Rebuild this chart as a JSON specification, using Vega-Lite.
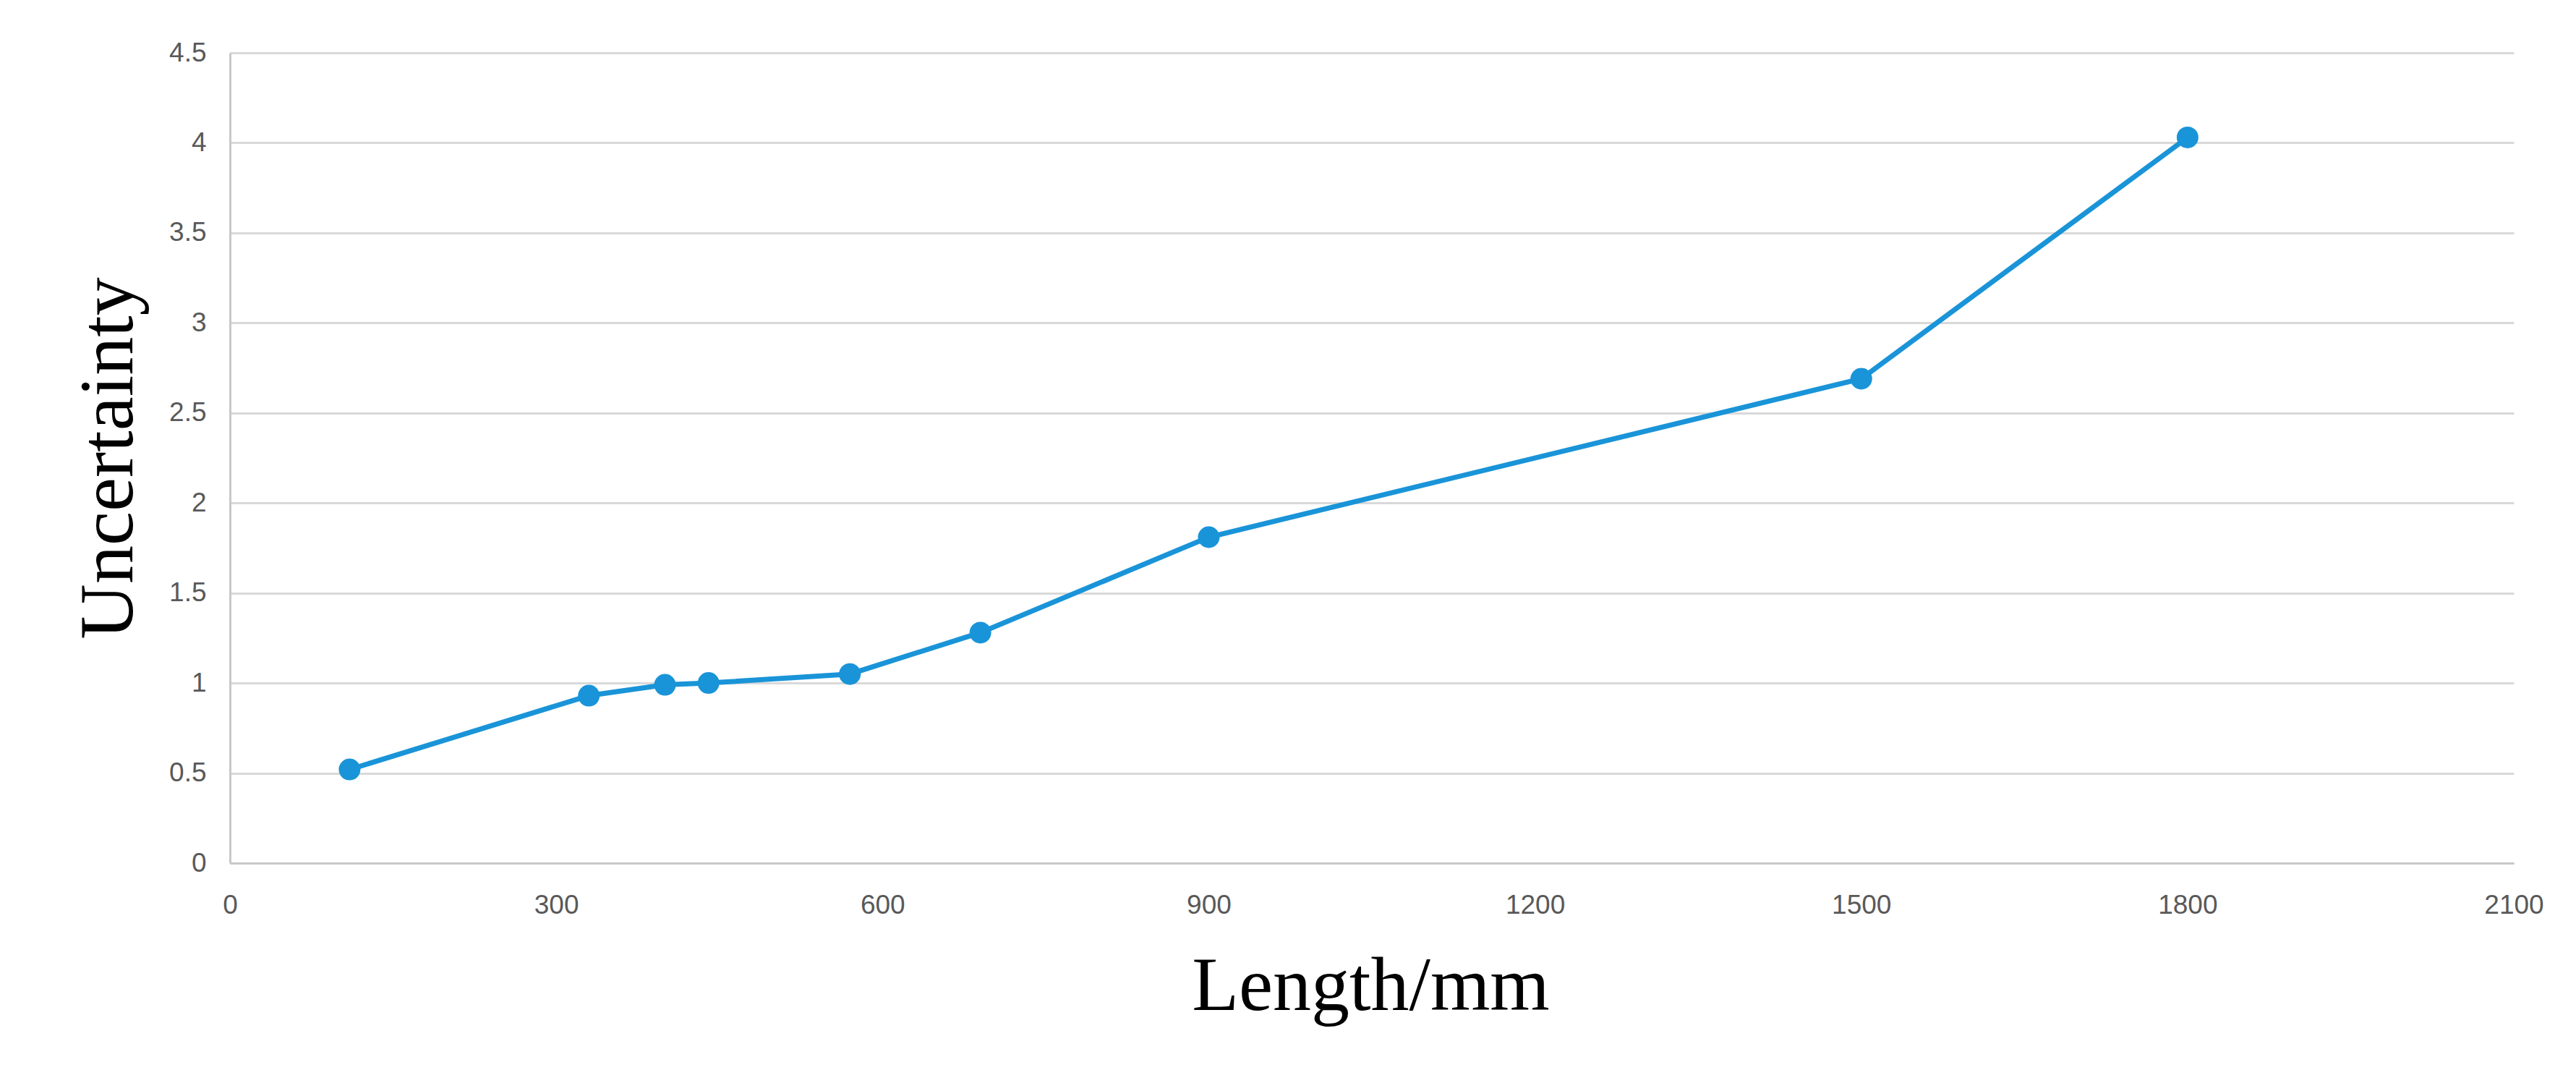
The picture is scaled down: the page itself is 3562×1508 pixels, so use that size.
{
  "$schema": "https://vega.github.io/schema/vega-lite/v6.json",
  "width": 3158,
  "height": 1120,
  "autosize": {"type": "none"},
  "padding": {"left": 318, "top": 73, "right": 86, "bottom": 315},
  "background": "white",
  "config": {
    "view": {"stroke": null},
    "axis": {
      "labelFont": "Liberation Sans",
      "labelFontSize": 37,
      "labelColor": "#595959",
      "titleFont": "Liberation Serif",
      "titleFontSize": 106,
      "titleFontWeight": "normal",
      "titleColor": "#000000",
      "ticks": false,
      "tickSize": 0,
      "domainColor": "#c8c8c8",
      "domainWidth": 3,
      "gridColor": "#d9d9d9",
      "gridWidth": 3
    }
  },
  "data": {
    "values": [
      {"length": 110, "uncertainty": 0.52},
      {"length": 330, "uncertainty": 0.93},
      {"length": 400, "uncertainty": 0.99},
      {"length": 440, "uncertainty": 1.0},
      {"length": 570, "uncertainty": 1.05},
      {"length": 690, "uncertainty": 1.28},
      {"length": 900, "uncertainty": 1.81},
      {"length": 1500, "uncertainty": 2.69},
      {"length": 1800, "uncertainty": 4.03}
    ]
  },
  "encoding": {
    "x": {
      "field": "length",
      "type": "quantitative",
      "scale": {"domain": [0, 2100], "nice": false, "zero": true},
      "axis": {
        "title": "Length/mm",
        "values": [0, 300, 600, 900, 1200, 1500, 1800, 2100],
        "format": "d",
        "grid": false,
        "labelPadding": 58,
        "labelBaseline": "middle",
        "labelFlush": false,
        "titleX": 1577,
        "titleY": 202,
        "titleAnchor": null,
        "titleAlign": "center",
        "titleBaseline": "alphabetic"
      }
    },
    "y": {
      "field": "uncertainty",
      "type": "quantitative",
      "scale": {"domain": [0, 4.5], "nice": false},
      "axis": {
        "title": "Uncertainty",
        "values": [0, 0.5, 1, 1.5, 2, 2.5, 3, 3.5, 4, 4.5],
        "labelExpr": "datum.value",
        "grid": true,
        "labelPadding": 33,
        "labelFlush": false,
        "titleAngle": -90,
        "titleX": -136,
        "titleY": 560,
        "titleAlign": "center",
        "titleBaseline": "alphabetic"
      }
    }
  },
  "layer": [
    {
      "mark": {"type": "line", "color": "#1a94d8", "strokeWidth": 7}
    },
    {
      "mark": {"type": "point", "shape": "circle", "filled": true, "opacity": 1, "color": "#1a94d8", "size": 900}
    }
  ]
}
